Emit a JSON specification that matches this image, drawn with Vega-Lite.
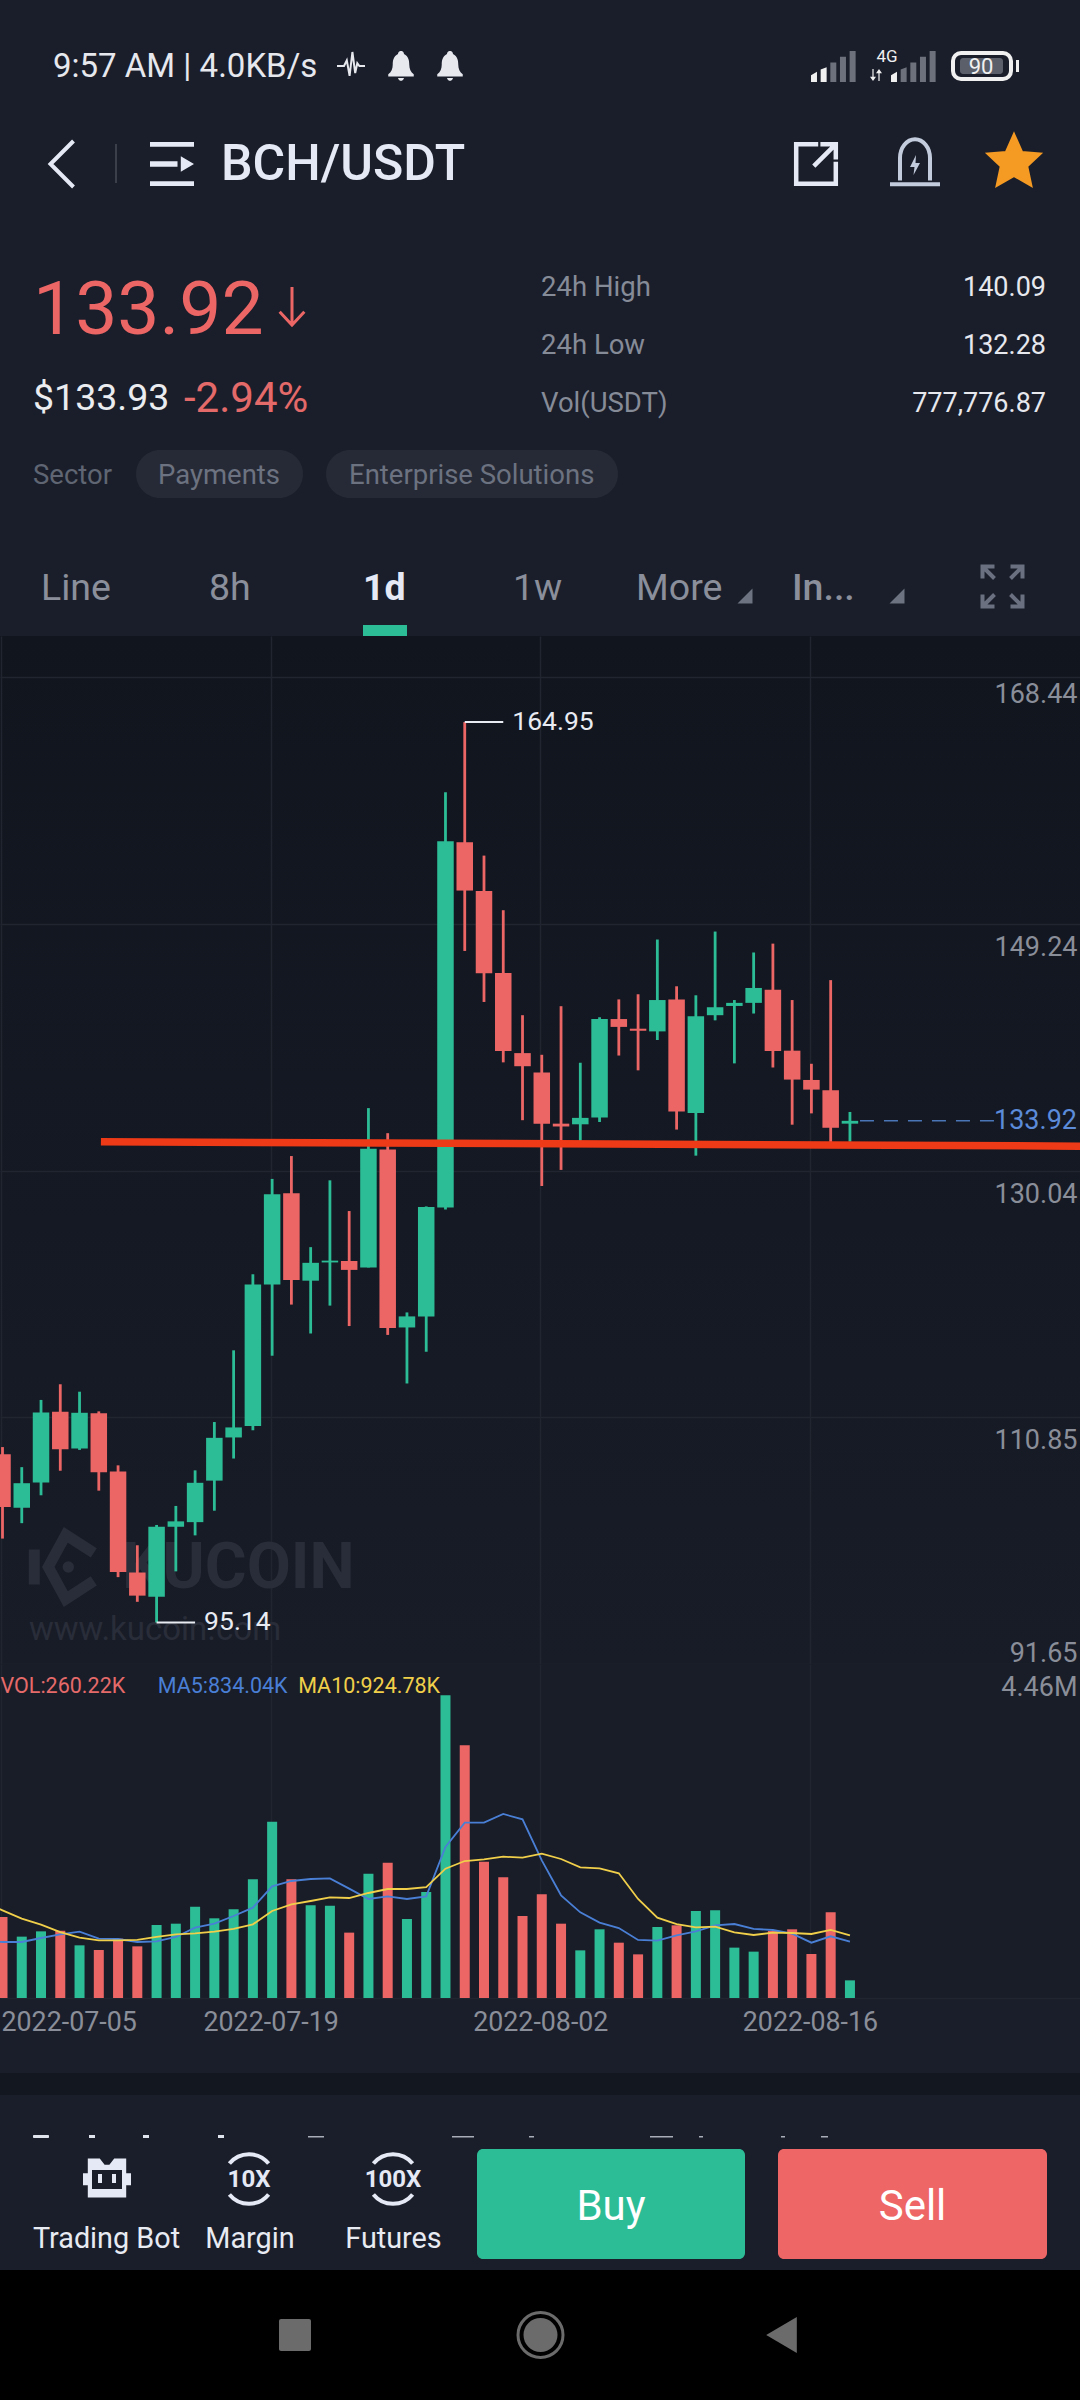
{"$schema":"https://vega.github.io/schema/vega-lite/v6.json","padding":0,"background":"#1a1e2a","spacing":0,"bounds":"flush","config":{"view":{"stroke":null},"font":"Roboto","concat":{"spacing":0}},"datasets":{"candles":[
{"date":"2022-07-04","ma5":0.83,"ma10":1.41},
{"date":"2022-07-05","open":107.97,"high":108.53,"low":101.41,"close":103.86,"dir":"down","volume":1.193,"ma5":0.825,"ma10":1.292},
{"date":"2022-07-06","open":103.81,"high":106.97,"low":102.61,"close":105.72,"dir":"up","volume":0.904,"ma5":0.825,"ma10":1.169},
{"date":"2022-07-07","open":105.78,"high":112.2,"low":104.78,"close":111.22,"dir":"up","volume":0.982,"ma5":0.884,"ma10":1.08},
{"date":"2022-07-08","open":111.28,"high":113.42,"low":106.69,"close":108.36,"dir":"down","volume":0.992,"ma5":0.938,"ma10":0.972},
{"date":"2022-07-09","open":108.42,"high":112.84,"low":108.31,"close":111.2,"dir":"up","volume":0.776,"ma5":0.977,"ma10":0.889},
{"date":"2022-07-10","open":111.17,"high":111.31,"low":105.14,"close":106.58,"dir":"down","volume":0.707,"ma5":0.874,"ma10":0.85},
{"date":"2022-07-11","open":106.64,"high":107.11,"low":98.41,"close":98.8,"dir":"down","volume":0.874,"ma5":0.869,"ma10":0.85},
{"date":"2022-07-12","open":98.77,"high":100.89,"low":96.49,"close":96.97,"dir":"down","volume":0.761,"ma5":0.825,"ma10":0.855},
{"date":"2022-07-13","open":96.89,"high":102.47,"low":94.88,"close":102.33,"dir":"up","volume":1.076,"ma5":0.835,"ma10":0.899},
{"date":"2022-07-14","open":102.33,"high":103.95,"low":98.86,"close":102.75,"dir":"up","volume":1.095,"ma5":0.899,"ma10":0.938},
{"date":"2022-07-15","open":102.69,"high":106.72,"low":101.66,"close":105.75,"dir":"up","volume":1.346,"ma5":1.036,"ma10":0.953},
{"date":"2022-07-16","open":105.92,"high":110.48,"low":103.58,"close":109.25,"dir":"up","volume":1.174,"ma5":1.095,"ma10":0.977},
{"date":"2022-07-17","open":109.28,"high":116.06,"low":107.64,"close":110.06,"dir":"up","volume":1.306,"ma5":1.208,"ma10":1.017},
{"date":"2022-07-18","open":110.17,"high":121.98,"low":109.84,"close":121.18,"dir":"up","volume":1.748,"ma5":1.331,"ma10":1.085},
{"date":"2022-07-19","open":121.18,"high":129.4,"low":115.64,"close":128.21,"dir":"up","volume":2.598,"ma5":1.645,"ma10":1.282},
{"date":"2022-07-20","open":128.29,"high":131.18,"low":119.62,"close":121.54,"dir":"down","volume":1.748,"ma5":1.724,"ma10":1.38},
{"date":"2022-07-21","open":121.48,"high":124.09,"low":117.37,"close":122.87,"dir":"up","volume":1.365,"ma5":1.753,"ma10":1.429},
{"date":"2022-07-22","open":122.9,"high":129.29,"low":119.54,"close":123.04,"dir":"up","volume":1.36,"ma5":1.763,"ma10":1.483},
{"date":"2022-07-23","open":123.01,"high":126.9,"low":117.95,"close":122.32,"dir":"down","volume":0.963,"ma5":1.611,"ma10":1.473},
{"date":"2022-07-24","open":122.51,"high":134.91,"low":122.51,"close":131.74,"dir":"up","volume":1.832,"ma5":1.459,"ma10":1.547},
{"date":"2022-07-25","open":131.68,"high":132.96,"low":117.26,"close":117.79,"dir":"down","volume":1.994,"ma5":1.498,"ma10":1.606},
{"date":"2022-07-26","open":117.84,"high":119.01,"low":113.48,"close":118.7,"dir":"up","volume":1.164,"ma5":1.459,"ma10":1.606},
{"date":"2022-07-27","open":118.7,"high":127.26,"low":115.95,"close":127.21,"dir":"up","volume":1.562,"ma5":1.498,"ma10":1.635},
{"date":"2022-07-28","open":127.18,"high":159.49,"low":127.01,"close":155.68,"dir":"up","volume":4.46,"ma5":2.225,"ma10":1.905},
{"date":"2022-07-29","open":155.6,"high":164.95,"low":147.14,"close":151.84,"dir":"down","volume":3.723,"ma5":2.583,"ma10":2.018},
{"date":"2022-07-30","open":151.81,"high":154.56,"low":143.17,"close":145.4,"dir":"down","volume":2.009,"ma5":2.583,"ma10":2.043},
{"date":"2022-07-31","open":145.43,"high":150.31,"low":138.47,"close":139.35,"dir":"down","volume":1.778,"ma5":2.711,"ma10":2.082},
{"date":"2022-08-01","open":139.19,"high":142.14,"low":133.97,"close":138.17,"dir":"down","volume":1.208,"ma5":2.632,"ma10":2.067},
{"date":"2022-08-02","open":137.69,"high":139.06,"low":128.85,"close":133.7,"dir":"down","volume":1.527,"ma5":2.028,"ma10":2.126},
{"date":"2022-08-03","open":133.7,"high":142.84,"low":130.1,"close":133.48,"dir":"down","volume":1.095,"ma5":1.513,"ma10":2.048},
{"date":"2022-08-04","open":133.65,"high":138.44,"low":132.3,"close":134.15,"dir":"up","volume":0.702,"ma5":1.262,"ma10":1.925},
{"date":"2022-08-05","open":134.18,"high":141.98,"low":133.83,"close":141.84,"dir":"up","volume":1.012,"ma5":1.11,"ma10":1.91},
{"date":"2022-08-06","open":141.84,"high":143.37,"low":139.0,"close":141.23,"dir":"down","volume":0.815,"ma5":1.031,"ma10":1.837},
{"date":"2022-08-07","open":141.09,"high":143.77,"low":137.85,"close":140.93,"dir":"down","volume":0.643,"ma5":0.855,"ma10":1.459},
{"date":"2022-08-08","open":140.88,"high":148.03,"low":140.21,"close":143.32,"dir":"up","volume":1.046,"ma5":0.845,"ma10":1.184},
{"date":"2022-08-09","open":143.37,"high":144.39,"low":133.24,"close":134.64,"dir":"down","volume":1.071,"ma5":0.923,"ma10":1.09},
{"date":"2022-08-10","open":134.53,"high":143.69,"low":131.21,"close":142.06,"dir":"up","volume":1.282,"ma5":0.982,"ma10":1.041},
{"date":"2022-08-11","open":142.14,"high":148.65,"low":141.74,"close":142.76,"dir":"up","volume":1.292,"ma5":1.071,"ma10":1.051},
{"date":"2022-08-12","open":142.86,"high":143.32,"low":138.39,"close":143.1,"dir":"up","volume":0.742,"ma5":1.09,"ma10":0.967},
{"date":"2022-08-13","open":143.1,"high":147.02,"low":142.27,"close":144.26,"dir":"up","volume":0.683,"ma5":1.017,"ma10":0.928},
{"date":"2022-08-14","open":144.12,"high":147.71,"low":138.07,"close":139.35,"dir":"down","volume":0.987,"ma5":1.002,"ma10":0.963},
{"date":"2022-08-15","open":139.38,"high":143.32,"low":133.62,"close":137.13,"dir":"down","volume":1.012,"ma5":0.948,"ma10":0.958},
{"date":"2022-08-16","open":137.1,"high":138.36,"low":134.5,"close":136.35,"dir":"down","volume":0.648,"ma5":0.815,"ma10":0.943},
{"date":"2022-08-17","open":136.3,"high":144.87,"low":132.28,"close":133.38,"dir":"down","volume":1.262,"ma5":0.909,"ma10":1.002},
{"date":"2022-08-18","open":133.7,"high":134.61,"low":132.3,"close":133.92,"dir":"up","volume":0.26,"ma5":0.83,"ma10":0.923}
]},
"vconcat":[
{"width":1080,"height":636,"data":{"values":[{}]},"layer":[
{"mark":{"type":"text","text":"9:57 AM | 4.0KB/s","x":53,"y":67,"align":"left","baseline":"middle","fontSize":33,"color":"#e6e8ee"}},
{"mark":{"type":"point","shape":"M-1,0L-.5,0L-.3,-.4L-.1,.7L.1,-1L.3,.5L.45,-.2L.6,0L1,0","x":351,"y":66,"size":784,"filled":false,"stroke":"#e6e8ee","strokeWidth":2,"opacity":1}},
{"mark":{"type":"point","shape":"M0,-1C.15,-1.05 .2,-.85 .2,-.8C.5,-.65 .55,-.35 .55,-.1C.55,.2 .65,.4 .85,.55L.85,.7L-.85,.7L-.85,.55C-.65,.4 -.55,.2 -.55,-.1C-.55,-.35 -.5,-.65 -.2,-.8C-.2,-.85 -.15,-1.05 0,-1ZM-.2,.8L.2,.8C.15,1.05 -.15,1.05 -.2,.8Z","x":401,"y":66,"size":900,"filled":true,"fill":"#e6e8ee","opacity":1}},
{"mark":{"type":"point","shape":"M0,-1C.15,-1.05 .2,-.85 .2,-.8C.5,-.65 .55,-.35 .55,-.1C.55,.2 .65,.4 .85,.55L.85,.7L-.85,.7L-.85,.55C-.65,.4 -.55,.2 -.55,-.1C-.55,-.35 -.5,-.65 -.2,-.8C-.2,-.85 -.15,-1.05 0,-1ZM-.2,.8L.2,.8C.15,1.05 -.15,1.05 -.2,.8Z","x":450,"y":66,"size":900,"filled":true,"fill":"#e6e8ee","opacity":1}},
{"mark":{"type":"point","shape":"M-.16,.7V-.15H.1V.7ZM.26,.7V-.4H.52V.7ZM.68,.7V-.65H.94V.7Z","x":834,"y":66,"size":2116,"filled":true,"fill":"#6d717b","opacity":1}},
{"mark":{"type":"point","shape":"M-1,.7V.4L-.74,.25V.7ZM-.58,.7V.15L-.32,.05V.7Z","x":834,"y":66,"size":2116,"filled":true,"fill":"#f0f0f0","opacity":1}},
{"mark":{"type":"point","shape":"M-.58,.7V.15L-.32,.05V.7ZM-.16,.7V-.15H.1V.7ZM.26,.7V-.4H.52V.7ZM.68,.7V-.65H.94V.7Z","x":914,"y":66,"size":2116,"filled":true,"fill":"#6d717b","opacity":1}},
{"mark":{"type":"point","shape":"M-1,.7V.4L-.74,.25V.7Z","x":914,"y":66,"size":2116,"filled":true,"fill":"#f0f0f0","opacity":1}},
{"mark":{"type":"point","shape":"M-.6,-1V.3H-1L-.5,1L0,.3H-.4V-1ZM.4,1V-.3H0L.5,-1L1,-.3H.6V1Z","x":876,"y":75,"size":144,"filled":true,"fill":"#f0f0f0","opacity":1}},
{"mark":{"type":"text","text":"4G","x":887,"y":57,"align":"center","baseline":"middle","fontSize":17,"color":"#f0f0f0"}},
{"mark":{"type":"rect","x":960,"x2":1003,"y":58,"y2":74,"fill":"#5a5f6a","cornerRadius":3}},
{"mark":{"type":"rect","x":953,"x2":1011,"y":53,"y2":79,"fill":null,"stroke":"#f0f0f0","strokeWidth":4,"cornerRadius":8}},
{"mark":{"type":"rect","x":1016,"x2":1019,"y":60,"y2":72,"fill":"#f0f0f0"}},
{"mark":{"type":"text","text":"90","x":981,"y":67,"align":"center","baseline":"middle","fontSize":22,"color":"#f0f0f0"}},
{"mark":{"type":"point","shape":"M.5,-1L-.5,0L.5,1","x":62,"y":164,"size":2116,"filled":false,"stroke":"#e4e9f5","strokeWidth":4,"opacity":1}},
{"mark":{"type":"rect","x":115,"x2":117,"y":144,"y2":183,"fill":"#3a3f4a"}},
{"mark":{"type":"point","shape":"M-1,-1H1V-.78H-1ZM-1,-.13H.25V.13H-1ZM.4,-.35L1,0L.4,.35ZM-1,.78H1V1H-1Z","x":172,"y":164,"size":1936,"filled":true,"fill":"#e4e9f5","opacity":1}},
{"mark":{"type":"text","text":"BCH/USDT","x":221,"y":165,"align":"left","baseline":"middle","fontSize":50,"fontWeight":500,"color":"#e4e9f5"}},
{"mark":{"type":"point","shape":"M.1,-.9H-.9V.9H.9V-.1M-.1,.1L.8,-.8M.2,-.9H.9V-.2","x":816,"y":164,"size":1936,"filled":false,"stroke":"#e4e9f5","strokeWidth":4.5,"opacity":1}},
{"mark":{"type":"point","shape":"M-.6,.7V-.2A.6,.75 0 0 1 .6,-.2V.7M-1,.85H1","x":915,"y":163,"size":2500,"filled":false,"stroke":"#c3ccdc","strokeWidth":4,"opacity":1}},
{"mark":{"type":"point","shape":"M.1,-1L-.5,.2H-.05L-.15,1L.5,-.2H.05Z","x":915,"y":165,"size":400,"filled":true,"fill":"#c3ccdc","opacity":1}},
{"mark":{"type":"point","shape":"M0,-1L.29,-.35L.95,-.3L.47,.15L.62,.85L0,.5L-.62,.85L-.47,.15L-.95,-.3L-.29,-.35Z","x":1014,"y":162,"size":2916,"filled":true,"fill":"#f59a23","stroke":"#f59a23","strokeWidth":3,"opacity":1}},
{"mark":{"type":"text","text":"133.92","x":33,"y":311,"align":"left","baseline":"middle","fontSize":75,"color":"#ec6666"}},
{"mark":{"type":"point","shape":"M0,-1V1M-.65,.3L0,1L.65,.3","x":292,"y":306,"size":1444,"filled":false,"stroke":"#ec6666","strokeWidth":3,"opacity":1}},
{"mark":{"type":"text","text":"$133.93","x":33,"y":399,"align":"left","baseline":"middle","fontSize":37.5,"color":"#eaecef"}},
{"mark":{"type":"text","text":"-2.94%","x":184,"y":399,"align":"left","baseline":"middle","fontSize":42,"color":"#e46a6a"}},
{"mark":{"type":"text","text":"24h High","x":541,"y":288,"align":"left","baseline":"middle","fontSize":27.5,"color":"#868b98"}},
{"mark":{"type":"text","text":"24h Low","x":541,"y":346,"align":"left","baseline":"middle","fontSize":27.5,"color":"#868b98"}},
{"mark":{"type":"text","text":"Vol(USDT)","x":541,"y":404,"align":"left","baseline":"middle","fontSize":27.5,"color":"#868b98"}},
{"mark":{"type":"text","text":"140.09","x":1046,"y":288,"align":"right","baseline":"middle","fontSize":27,"color":"#e6e8ee"}},
{"mark":{"type":"text","text":"132.28","x":1046,"y":346,"align":"right","baseline":"middle","fontSize":27,"color":"#e6e8ee"}},
{"mark":{"type":"text","text":"777,776.87","x":1046,"y":404,"align":"right","baseline":"middle","fontSize":27,"color":"#e6e8ee"}},
{"mark":{"type":"text","text":"Sector","x":33,"y":476,"align":"left","baseline":"middle","fontSize":27.5,"color":"#5f6572"}},
{"mark":{"type":"rect","x":136,"x2":303,"y":450,"y2":498,"fill":"#262a36","cornerRadius":24}},
{"mark":{"type":"rect","x":326,"x2":618,"y":450,"y2":498,"fill":"#262a36","cornerRadius":24}},
{"mark":{"type":"text","text":"Payments","x":158,"y":476,"align":"left","baseline":"middle","fontSize":27.5,"color":"#6c7280"}},
{"mark":{"type":"text","text":"Enterprise Solutions","x":349,"y":476,"align":"left","baseline":"middle","fontSize":27.5,"color":"#6c7280"}},
{"mark":{"type":"text","text":"Line","x":41,"y":589,"align":"left","baseline":"middle","fontSize":37.5,"color":"#8a8f9b"}},
{"mark":{"type":"text","text":"8h","x":209,"y":589,"align":"left","baseline":"middle","fontSize":37.5,"color":"#8a8f9b"}},
{"mark":{"type":"text","text":"1d","x":363,"y":589,"align":"left","baseline":"middle","fontSize":37.5,"fontWeight":"bold","color":"#e4e9f5"}},
{"mark":{"type":"text","text":"1w","x":513,"y":589,"align":"left","baseline":"middle","fontSize":37.5,"color":"#8a8f9b"}},
{"mark":{"type":"text","text":"More","x":636,"y":589,"align":"left","baseline":"middle","fontSize":37.5,"color":"#8a8f9b"}},
{"mark":{"type":"text","text":"In...","x":792,"y":589,"align":"left","baseline":"middle","fontSize":37.5,"fontWeight":500,"color":"#8a8f9b"}},
{"mark":{"type":"point","shape":"M1,-1V1H-1Z","x":745,"y":596,"size":225,"filled":true,"fill":"#6d7380","opacity":1}},
{"mark":{"type":"point","shape":"M1,-1V1H-1Z","x":897,"y":596,"size":225,"filled":true,"fill":"#6d7380","opacity":1}},
{"mark":{"type":"point","shape":"M-1,-.4V-1H-.4M-1,-1L-.4,-.4M1,-.4V-1H.4M1,-1L.4,-.4M-1,.4V1H-.4M-1,1L-.4,.4M1,.4V1H.4M1,1L.4,.4","x":1002.5,"y":586.5,"size":1600,"filled":false,"stroke":"#6a7080","strokeWidth":4,"opacity":1}},
{"mark":{"type":"rect","x":363,"x2":407,"y":625,"y2":636,"fill":"#2dbd96"}}
]},
{"width":1080,"height":1028,"view":{"fill":{"gradient":"linear","x1":0,"y1":0,"x2":0,"y2":1,"stops":[{"offset":0,"color":"#11151e"},{"offset":1,"color":"#181c27"}]},"stroke":null},
"encoding":{"x":{"field":"date","type":"temporal","title":null,"scale":{"type":"utc","padding":0,"domain":[1656967985000,1661812848000]},"axis":{"values":[1656979200000,1658188800000,1659398400000,1660608000000],"grid":true,"gridColor":"#21252f","gridWidth":1.5,"labels":false,"ticks":false,"domain":false,"tickOffset":-1.5}}},
"layer":[
{"data":{"values":[{"date":"2022-07-11T04:48:00Z","price":99.05,"label":"KUCOIN"}]},"mark":{"type":"text","align":"left","baseline":"middle","fontSize":64,"fontWeight":"bold","color":"#292d39"},"encoding":{"y":{"field":"price","type":"quantitative","title":null,"scale":{"domain":[91.65,171.65],"zero":false,"nice":false},"axis":{"orient":"right","values":[168.44,149.24,130.04,110.85,91.65],"format":".2f","grid":true,"gridColor":"#21252f","gridWidth":1.5,"domain":false,"ticks":false,"labelAlign":"right","labelBaseline":"middle","labelPadding":-3,"labelFont":"Roboto","labelFontSize":27,"labelColor":"#8a8e99","labelOffset":{"condition":[{"test":"datum.value>160","value":17},{"test":"datum.value<100","value":-11}],"value":23.5}}},"text":{"field":"label"}}},
{"data":{"values":[{"date":"2022-07-06T09:00:00Z","price":94.3,"label":"www.kucoin.com"}]},"mark":{"type":"text","align":"left","baseline":"middle","fontSize":33,"color":"#292d39"},"encoding":{"y":{"field":"price","type":"quantitative"},"text":{"field":"label"}}},
{"data":{"values":[{"date":"2022-07-08T04:40:00Z","price":99.2}]},"mark":{"type":"point","shape":"M-.85,-.5V.5M.85,-.4L.05,-.92L-.45,0L.05,.92L.85,.4","size":4900,"filled":false,"stroke":"#292d39","strokeWidth":11,"opacity":1},"encoding":{"y":{"field":"price","type":"quantitative"}}},
{"data":{"values":[{"date":"2022-07-08T10:00:00Z","price":99.2}]},"mark":{"type":"point","shape":"circle","size":130,"filled":true,"fill":"#292d39","opacity":1},"encoding":{"y":{"field":"price","type":"quantitative"}}},
{"data":{"name":"candles"},"mark":{"type":"rule","strokeWidth":2.8,"clip":true},"encoding":{"y":{"field":"low","type":"quantitative"},"y2":{"field":"high"},"color":{"field":"dir","type":"nominal","legend":null,"scale":{"domain":["up","down"],"range":["#2dbd96","#ec6666"]}}}},
{"data":{"name":"candles"},"mark":{"type":"bar","size":16.5,"orient":"vertical","clip":true},"encoding":{"y":{"field":"open","type":"quantitative"},"y2":{"field":"close"},"color":{"field":"dir","type":"nominal","legend":null,"scale":{"domain":["up","down"],"range":["#2dbd96","#ec6666"]}}}},
{"data":{"values":[{"date":"2022-07-29","end":"2022-07-31","price":164.95},{"date":"2022-07-13","end":"2022-07-15","price":94.88}]},"mark":{"type":"rule","color":"#e8ebf2","strokeWidth":2},"encoding":{"x2":{"field":"end"},"y":{"field":"price","type":"quantitative"}}},
{"data":{"values":[{"date":"2022-07-31","price":164.95,"label":"164.95"},{"date":"2022-07-15","price":94.88,"label":"95.14"}]},"mark":{"type":"text","align":"left","baseline":"middle","dx":9,"fontSize":26.5,"color":"#e8ebf2"},"encoding":{"y":{"field":"price","type":"quantitative"},"text":{"field":"label"}}},
{"data":{"values":[{"date":"2022-08-18T12:30:00Z","end":"2022-08-25T13:40:00Z","price":133.92}]},"mark":{"type":"rule","color":"#4a76b8","strokeWidth":1.5,"strokeDash":[14,10]},"encoding":{"x2":{"field":"end"},"y":{"field":"price","type":"quantitative"}}},
{"data":{"values":[{"date":"2022-08-29T22:40:48Z","price":133.92,"label":"133.92"}]},"mark":{"type":"text","align":"right","baseline":"middle","dx":-3,"fontSize":27,"color":"#5b8bd9"},"encoding":{"y":{"field":"price","type":"quantitative"},"text":{"field":"label"}}},
{"data":{"values":[{"date":"2022-07-10T02:38:00Z","price":132.29},{"date":"2022-08-29T22:40:48Z","price":131.95}]},"mark":{"type":"line","color":"#ee3a17","strokeWidth":7.5,"strokeCap":"butt","clip":true},"encoding":{"y":{"field":"price","type":"quantitative"}}}
]},
{"width":1080,"height":334,"view":{"fill":"#191d28","stroke":null},"data":{"name":"candles"},
"encoding":{"x":{"field":"date","type":"temporal","title":null,"scale":{"type":"utc","padding":0,"domain":[1656967985000,1661812848000]},"axis":{"values":[1656979200000,1658188800000,1659398400000,1660608000000],"format":"%Y-%m-%d","grid":true,"gridColor":"#21252f","gridWidth":1.5,"ticks":false,"domain":true,"domainColor":"#21252f","domainWidth":1.5,"tickOffset":-1.5,"labelFont":"Roboto","labelFontSize":26.8,"labelColor":"#8a8e99","labelBaseline":"middle","labelPadding":24,"labelFlush":false,"labelOverlap":false,"labelAlign":{"condition":{"test":"datum.value<1657000000000","value":"left"},"value":"center"}}}},
"layer":[
{"mark":{"type":"bar","size":10,"orient":"vertical","clip":true},"encoding":{"y":{"field":"volume","type":"quantitative","title":null,"scale":{"domain":[0,4.921],"nice":false},"axis":{"orient":"right","values":[4.46],"labelExpr":"'4.46M'","grid":false,"domain":false,"ticks":false,"labelAlign":"right","labelBaseline":"middle","labelPadding":-3,"labelFont":"Roboto","labelFontSize":27,"labelColor":"#8a8e99","labelOffset":-8}},"color":{"field":"dir","type":"nominal","legend":null,"scale":{"domain":["up","down"],"range":["#2dbd96","#ec6666"]}}}},
{"mark":{"type":"line","color":"#4a7fd6","strokeWidth":1.8,"clip":true},"encoding":{"y":{"field":"ma5","type":"quantitative"}}},
{"mark":{"type":"line","color":"#f0cf4a","strokeWidth":1.8,"clip":true},"encoding":{"y":{"field":"ma10","type":"quantitative"}}},
{"data":{"values":[{"date":"2022-07-04T21:30:00Z","level":4.58,"label":"VOL:260.22K"}]},"mark":{"type":"text","align":"left","baseline":"middle","fontSize":21.5,"color":"#e56a6a"},"encoding":{"y":{"field":"level","type":"quantitative"},"text":{"field":"label"}}},
{"data":{"values":[{"date":"2022-07-13T01:24:00Z","level":4.58,"label":"MA5:834.04K"}]},"mark":{"type":"text","align":"left","baseline":"middle","fontSize":21.5,"color":"#4a7fd6"},"encoding":{"y":{"field":"level","type":"quantitative"},"text":{"field":"label"}}},
{"data":{"values":[{"date":"2022-07-20T08:24:00Z","level":4.58,"label":"MA10:924.78K"}]},"mark":{"type":"text","align":"left","baseline":"middle","fontSize":21.5,"color":"#f0cf4a"},"encoding":{"y":{"field":"level","type":"quantitative"},"text":{"field":"label"}}}
]},
{"width":1080,"height":402,"data":{"values":[{}]},"layer":[
{"mark":{"type":"rect","x":0,"x2":1080,"y":75,"y2":97,"fill":"#131720"}},
{"mark":{"type":"rect","x":0,"x2":1080,"y":272,"y2":402,"fill":"#000000"}},
{"mark":{"type":"rect","x":33,"x2":49,"y":137,"y2":140,"fill":"#dfe3ec","cornerRadius":1}},
{"mark":{"type":"rect","x":89,"x2":95,"y":137,"y2":140,"fill":"#dfe3ec"}},
{"mark":{"type":"rect","x":143,"x2":149,"y":137,"y2":140,"fill":"#dfe3ec"}},
{"mark":{"type":"rect","x":218,"x2":224,"y":137,"y2":140,"fill":"#dfe3ec"}},
{"mark":{"type":"rect","x":308,"x2":324,"y":138,"y2":139.5,"fill":"#a9adb8"}},
{"mark":{"type":"rect","x":452,"x2":474,"y":138,"y2":139.5,"fill":"#a9adb8"}},
{"mark":{"type":"rect","x":529,"x2":534,"y":138,"y2":139.5,"fill":"#a9adb8"}},
{"mark":{"type":"rect","x":650,"x2":673,"y":138,"y2":139.5,"fill":"#a9adb8"}},
{"mark":{"type":"rect","x":699,"x2":703,"y":138,"y2":139.5,"fill":"#a9adb8"}},
{"mark":{"type":"rect","x":781,"x2":785,"y":138,"y2":139.5,"fill":"#a9adb8"}},
{"mark":{"type":"rect","x":821,"x2":828,"y":138,"y2":139.5,"fill":"#a9adb8"}},
{"mark":{"type":"rect","x":477,"x2":745,"y":151,"y2":261,"fill":"#2dbd96","cornerRadius":6}},
{"mark":{"type":"rect","x":778,"x2":1047,"y":151,"y2":261,"fill":"#ee6666","cornerRadius":6}},
{"mark":{"type":"text","text":"Buy","x":611,"y":209,"align":"center","baseline":"middle","fontSize":42,"color":"#ffffff"}},
{"mark":{"type":"text","text":"Sell","x":912.5,"y":209,"align":"center","baseline":"middle","fontSize":42,"color":"#ffffff"}},
{"mark":{"type":"text","text":"Trading Bot","x":106.5,"y":241,"align":"center","baseline":"middle","fontSize":28.8,"color":"#e8ebf2"}},
{"mark":{"type":"text","text":"Margin","x":250,"y":241,"align":"center","baseline":"middle","fontSize":28.8,"color":"#e8ebf2"}},
{"mark":{"type":"text","text":"Futures","x":393.5,"y":241,"align":"center","baseline":"middle","fontSize":28.8,"color":"#e8ebf2"}},
{"mark":{"type":"point","shape":"M-.8,-.81L-.3,-.81L-.1,-.55L.1,-.55L.3,-.81L.8,-.81L.8,.81L-.8,.81ZM-1,-.2H-.8V.3H-1ZM.8,-.2H1V.3H.8Z","x":107,"y":180,"size":2304,"filled":true,"fill":"#e4e9f5","opacity":1}},
{"mark":{"type":"rect","x":92,"x2":122,"y":172,"y2":191,"fill":"#1a1e2a"}},
{"mark":{"type":"rect","x":98,"x2":102,"y":176,"y2":185,"fill":"#e4e9f5"}},
{"mark":{"type":"rect","x":112,"x2":116,"y":176,"y2":185,"fill":"#e4e9f5"}},
{"mark":{"type":"point","shape":"M-.7,-.55A.9,.9 0 0 1 .7,-.55M-.7,.55A.9,.9 0 0 0 .7,.55","x":249,"y":181,"size":3136,"filled":false,"stroke":"#e4e9f5","strokeWidth":4,"opacity":1}},
{"mark":{"type":"text","text":"10X","x":249,"y":182,"align":"center","baseline":"middle","fontSize":24,"fontWeight":"bold","color":"#e4e9f5"}},
{"mark":{"type":"point","shape":"M-.7,-.55A.9,.9 0 0 1 .7,-.55M-.7,.55A.9,.9 0 0 0 .7,.55","x":393,"y":181,"size":3136,"filled":false,"stroke":"#e4e9f5","strokeWidth":4,"opacity":1}},
{"mark":{"type":"text","text":"100X","x":393,"y":182,"align":"center","baseline":"middle","fontSize":24,"fontWeight":"bold","color":"#e4e9f5"}},
{"mark":{"type":"rect","x":279,"x2":311,"y":321,"y2":353,"fill":"#6b6b6b","cornerRadius":2}},
{"mark":{"type":"point","shape":"circle","x":540.5,"y":337,"size":2025,"filled":false,"stroke":"#6b6b6b","strokeWidth":3,"opacity":1}},
{"mark":{"type":"point","shape":"circle","x":540.5,"y":337,"size":1156,"filled":true,"fill":"#6b6b6b","opacity":1}},
{"mark":{"type":"point","shape":"M.85,-1L.85,1L-.85,0Z","x":781.5,"y":337,"size":1296,"filled":true,"fill":"#6b6b6b","opacity":1}}
]}
]}
